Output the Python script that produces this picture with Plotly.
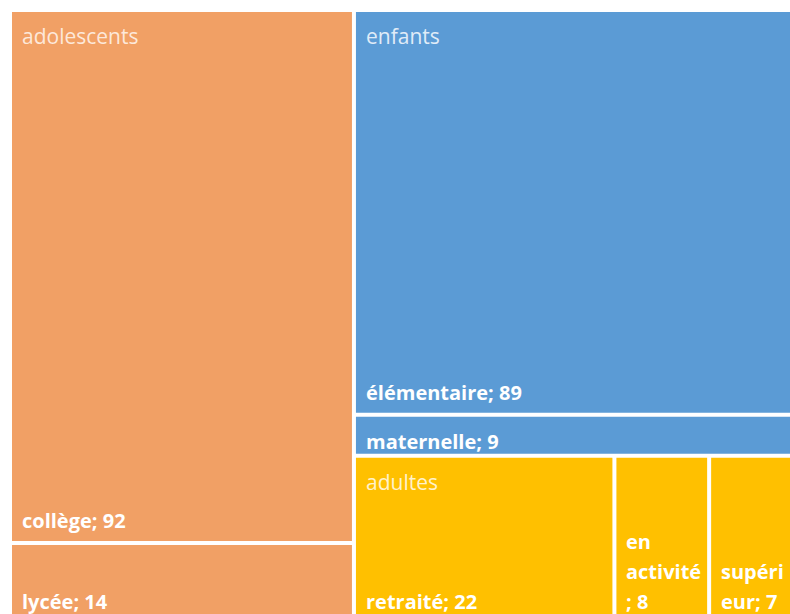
import plotly.graph_objects as go

# ---- data ----
groups = ["adolescents", "enfants", "adultes"]
group_colors = ["#F1A065", "#5B9BD5", "#FFC000"]
group_label_colors = ["#FDE8DA", "#E0ECF8", "#FFF2CC"]
leaf_names = ["collège", "lycée", "élémentaire", "maternelle", "retraité", "en activité", "supérieur"]
leaf_parents = ["adolescents", "adolescents", "enfants", "enfants", "adultes", "adultes", "adultes"]
leaf_values = [92, 14, 89, 9, 22, 8, 7]
# label text as wrapped in the reference (line breaks only)
leaf_display = ["collège", "lycée", "élémentaire", "maternelle", "retraité", "en\nactivité\n", "supéri\neur"]

# ---- layout constants (pixel space) ----
W, H = 790, 614
AREA = (10, 10, 792, 624)
GAP = 2
PAD_X = 8
FONT = "'Open Sans', 'Noto Sans', sans-serif"
FS = 20
FS_GROUP = 21
LINE = 30


def squarify(values, x0, y0, x1, y1):
    n = len(values)
    rects = [None] * n
    total = float(sum(values))
    i0 = 0
    while i0 < n:
        dx, dy = x1 - x0, y1 - y0
        i1 = i0
        s = values[i1]
        i1 += 1
        mn = mx = s
        alpha = max(dy / dx, dx / dy) / total
        beta = s * s * alpha
        minr = max(mx / beta, beta / mn)
        while i1 < n:
            v = values[i1]
            s2 = s + v
            mn2, mx2 = min(mn, v), max(mx, v)
            beta = s2 * s2 * alpha
            nr = max(mx2 / beta, beta / mn2)
            if nr > minr:
                break
            s, mn, mx, minr = s2, mn2, mx2, nr
            i1 += 1
        if dx < dy:
            h = dy * s / total
            xx = x0
            for k in range(i0, i1):
                w = dx * values[k] / s
                rects[k] = (xx, y0, xx + w, y0 + h)
                xx += w
            y0 += h
        else:
            w = dx * s / total
            yy = y0
            for k in range(i0, i1):
                h = dy * values[k] / s
                rects[k] = (x0, yy, x0 + w, yy + h)
                yy += h
            x0 += w
        total -= s
        i0 = i1
    return rects


group_totals = [sum(v for v, p in zip(leaf_values, leaf_parents) if p == g) for g in groups]
order = sorted(range(len(groups)), key=lambda i: -group_totals[i])
g_rects = squarify([group_totals[i] for i in order], *AREA)

fig = go.Figure()
annotations = []


def add_lines(lines, x, last_baseline, color, weight, size):
    nl = len(lines)
    for j, ln in enumerate(lines):
        base = last_baseline - (nl - 1 - j) * LINE
        annotations.append(dict(
            x=x, y=base - 0.33 * size, xref="x", yref="y", text=ln, showarrow=False,
            xanchor="left", yanchor="middle", align="left",
            font=dict(family=FONT, size=size, color=color, weight=weight)))


for gi, gr in zip(order, g_rects):
    g = groups[gi]
    idx = [k for k in range(len(leaf_names)) if leaf_parents[k] == g]
    idx.sort(key=lambda k: -leaf_values[k])
    l_rects = squarify([leaf_values[k] for k in idx], *gr)
    for k, (a, b, c, d) in zip(idx, l_rects):
        xa, xb, ya, yb = a + GAP, c - GAP, b + GAP, d - GAP
        fig.add_trace(go.Scatter(
            x=[xa, xb, xb, xa, xa], y=[ya, ya, yb, yb, ya], mode="lines",
            fill="toself", fillcolor=group_colors[gi], line=dict(width=0),
            hoveron="fills", name=f"{leaf_names[k]}; {leaf_values[k]}", showlegend=False))
        lines = f"{leaf_display[k]}; {leaf_values[k]}".split("\n")
        base = max(yb - 14, ya + 31)
        add_lines(lines, xa + PAD_X, base, "white", "bold", FS)
    # group label at top-left
    add_lines([g], gr[0] + GAP + PAD_X, gr[1] + GAP + 31, group_label_colors[gi], "normal", FS_GROUP)

fig.update_layout(
    width=W, height=H, margin=dict(l=0, r=0, t=0, b=0),
    paper_bgcolor="white", plot_bgcolor="white",
    xaxis=dict(range=[0, W], visible=False, fixedrange=True),
    yaxis=dict(range=[H, 0], visible=False, fixedrange=True),
    annotations=annotations, showlegend=False,
)
fig.write_html("out.html", config={"displayModeBar": False},
               post_script="document.body.style.margin='0';document.body.style.overflow='hidden';")
